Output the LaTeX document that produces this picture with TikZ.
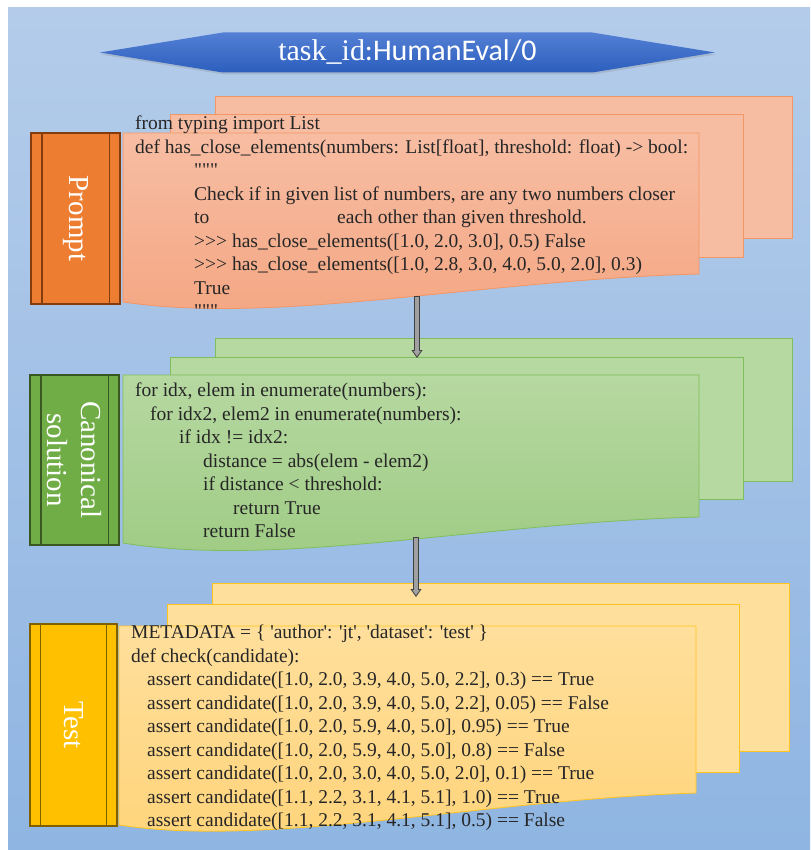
\documentclass[tikz,border=0pt]{standalone}
\usepackage{fontspec}
\setmainfont{Liberation Serif}[Ligatures=TeXOff]
\setsansfont{Carlito}
\usepackage{tikz}
\usetikzlibrary{shapes.symbols, shadows, arrows.meta, positioning}

\definecolor{bgtop}{RGB}{180,204,234}
\definecolor{bgbot}{RGB}{143,181,226}
\definecolor{bannertop}{RGB}{84,128,212}
\definecolor{bannerbot}{RGB}{44,94,190}
\definecolor{promptside}{RGB}{237,125,49}
\definecolor{promptedge}{RGB}{132,60,12}
\definecolor{promptsheet}{RGB}{247,189,163}
\definecolor{promptlow}{RGB}{244,166,130}
\definecolor{promptline}{RGB}{244,150,100}
\definecolor{canonside}{RGB}{112,173,71}
\definecolor{canonedge}{RGB}{56,87,35}
\definecolor{canonsheet}{RGB}{182,216,161}
\definecolor{canonlow}{RGB}{158,203,131}
\definecolor{canonline}{RGB}{128,190,92}
\definecolor{testside}{RGB}{255,192,0}
\definecolor{testedge}{RGB}{127,96,0}
\definecolor{testsheet}{RGB}{255,223,156}
\definecolor{testlow}{RGB}{255,212,122}
\definecolor{testline}{RGB}{255,196,30}
\definecolor{arrowgray}{RGB}{160,160,160}
\definecolor{arrowdark}{RGB}{64,64,64}

\tikzset{
  codetext/.style={anchor=north west, inner sep=0pt, align=left, text=black!85,
    font=\fontsize{19.5}{23.5}\selectfont},
  sidebox/.style={draw, line width=1.4pt, inner sep=0pt},
  sidelabel/.style={rotate=-90, text=white, align=center,
    font=\fontsize{29}{34}\selectfont},
  sheet/.style={line width=0.8pt},
  blockarrow/.style={draw=arrowdark, line width=0.8pt,
    -{Triangle[width=11pt,length=8pt,fill=arrowgray]},
    postaction={draw=arrowdark, line width=5.6pt, -, shorten >=7.5pt},
    postaction={draw=arrowgray, line width=3.8pt, -, shorten >=7.5pt, shorten <=0.9pt}}
}

\begin{document}
\begin{tikzpicture}[x=1pt, y=-1pt]
  \useasboundingbox (0,0) rectangle (810,850);
  \fill[top color=bgtop, bottom color=bgbot] (8,8) rectangle (810,850);

  % title banner
  \node[signal, signal to=east and west, signal pointer angle=18.5,
    minimum width=615, minimum height=40, inner sep=0pt,
    top color=bannertop, bottom color=bannerbot,
    drop shadow={opacity=0.25, shadow xshift=1pt, shadow yshift=-2pt},
    text=white, font=\fontsize{30}{34}\selectfont] (title) at (407.5,52.5)
    {\rmfamily task\_id{\sffamily:HumanEval/0}};

  % prompt
  \draw[sheet, fill=promptsheet, draw=promptline] (215,96) rectangle (792,238);
  \draw[sheet, fill=promptsheet, draw=promptline] (170,114) rectangle (743,257);
  \draw[sheet, top color=promptsheet, bottom color=promptlow, draw=promptline]
    (123,133) -- (699,133) -- (699,274) .. controls (480,280) and (280,325) .. (123,302) -- cycle;
  \node[sidebox, fill=promptside, draw=promptedge, minimum width=89, minimum height=171]
    (promptbox) at (75.5,218.5) {};
  \draw[promptedge, line width=1.4pt] ([xshift=11.5]promptbox.north west) -- ([xshift=11.5]promptbox.south west);
  \draw[promptedge, line width=1.4pt] ([xshift=-11.5]promptbox.north east) -- ([xshift=-11.5]promptbox.south east);
  \node[sidelabel] (promptlabel) at (promptbox) {Prompt};
  \node[codetext] (prompttext) at (135,116) {from typing import List\\
    def has\_close\_elements(numbers: List[float], threshold: float) -> bool:\\
    \hspace*{59pt}"""\\
    \hspace*{59pt}Check if in given list of numbers, are any two numbers closer\\
    \hspace*{59pt}\makebox[143pt][l]{to}each other than given threshold.\\
    \hspace*{59pt}>>> has\_close\_elements([1.0, 2.0, 3.0], 0.5) False\\
    \hspace*{59pt}>>> has\_close\_elements([1.0, 2.8, 3.0, 4.0, 5.0, 2.0], 0.3)\\
    \hspace*{59pt}True\\
    \hspace*{59pt}"""};

  % canonical solution
  \draw[sheet, fill=canonsheet, draw=canonline] (215,338) rectangle (792,481);
  \draw[sheet, fill=canonsheet, draw=canonline] (170,357) rectangle (743,499);
  \draw[sheet, top color=canonsheet, bottom color=canonlow, draw=canonline]
    (123,375) -- (699,375) -- (699,517) .. controls (480,523) and (280,568) .. (123,543) -- cycle;
  \node[sidebox, fill=canonside, draw=canonedge, minimum width=89, minimum height=170]
    (canonbox) at (74.5,460) {};
  \draw[canonedge, line width=1.4pt] ([xshift=11.5]canonbox.north west) -- ([xshift=11.5]canonbox.south west);
  \draw[canonedge, line width=1.4pt] ([xshift=-11.5]canonbox.north east) -- ([xshift=-11.5]canonbox.south east);
  \node[sidelabel] (canonlabel) at (canonbox) {Canonical\\solution};
  \node[codetext] (canontext) at (135,383) {for idx, elem in enumerate(numbers):\\
    \hspace*{15pt}for idx2, elem2 in enumerate(numbers):\\
    \hspace*{44pt}if idx != idx2:\\
    \hspace*{68pt}distance = abs(elem - elem2)\\
    \hspace*{68pt}if distance < threshold:\\
    \hspace*{98pt}return True\\
    \hspace*{68pt}return False};

  % test
  \draw[sheet, fill=testsheet, draw=testline] (212,583) rectangle (789,751);
  \draw[sheet, fill=testsheet, draw=testline] (167,604) rectangle (739,772);
  \draw[sheet, top color=testsheet, bottom color=testlow, draw=testline]
    (119,626) -- (696,626) -- (696,793) .. controls (480,800) and (270,848) .. (119,825) -- cycle;
  \node[sidebox, fill=testside, draw=testedge, minimum width=87, minimum height=202]
    (testbox) at (73.5,725) {};
  \draw[testedge, line width=1.4pt] ([xshift=11]testbox.north west) -- ([xshift=11]testbox.south west);
  \draw[testedge, line width=1.4pt] ([xshift=-11]testbox.north east) -- ([xshift=-11]testbox.south east);
  \node[sidelabel] (testlabel) at (testbox) {Test};
  \node[codetext] (testtext) at (131,625) {METADATA = \{ 'author': 'jt', 'dataset': 'test' \}\\
    def check(candidate):\\
    \hspace*{16pt}assert candidate([1.0, 2.0, 3.9, 4.0, 5.0, 2.2], 0.3) == True\\
    \hspace*{16pt}assert candidate([1.0, 2.0, 3.9, 4.0, 5.0, 2.2], 0.05) == False\\
    \hspace*{16pt}assert candidate([1.0, 2.0, 5.9, 4.0, 5.0], 0.95) == True\\
    \hspace*{16pt}assert candidate([1.0, 2.0, 5.9, 4.0, 5.0], 0.8) == False\\
    \hspace*{16pt}assert candidate([1.0, 2.0, 3.0, 4.0, 5.0, 2.0], 0.1) == True\\
    \hspace*{16pt}assert candidate([1.1, 2.2, 3.1, 4.1, 5.1], 1.0) == True\\
    \hspace*{16pt}assert candidate([1.1, 2.2, 3.1, 4.1, 5.1], 0.5) == False};

  % arrows between the stacks
  \coordinate (promptout) at (417,296);
  \coordinate (canonin) at (417,358);
  \coordinate (canonout) at (416,537);
  \coordinate (testin) at (416,597);
  \draw[blockarrow] (promptout) -- (canonin);
  \draw[blockarrow] (canonout) -- (testin);
\end{tikzpicture}
\end{document}
